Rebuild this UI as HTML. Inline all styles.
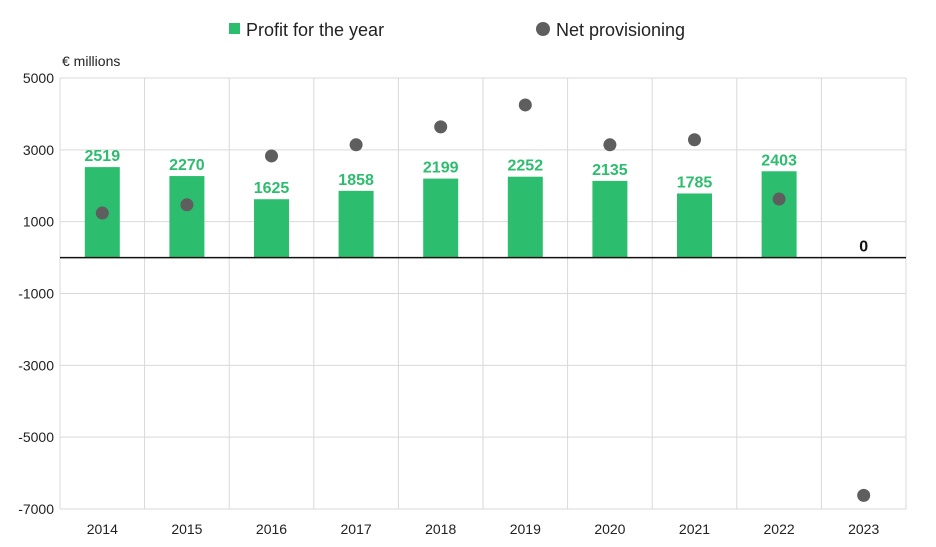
<!DOCTYPE html>
<html><head><meta charset="utf-8"><style>
body{margin:0;background:#fff;font-family:"Liberation Sans",Arial,sans-serif;}
svg text{font-family:"Liberation Sans",Arial,sans-serif;}
</style></head><body>
<svg id="chart" width="936" height="542">
<g>
<rect x="229" y="23" width="11" height="11" fill="#2dbd6e"/>
<text x="246" y="36" font-size="18" fill="#222">Profit for the year</text>
<circle cx="543" cy="29" r="7" fill="#5e5e5e"/>
<text x="556" y="36" font-size="18" fill="#222">Net provisioning</text>
</g>
<text x="62" y="66" font-size="14" fill="#222">€ millions</text>
<g id="grid"></g><g id="marks"></g>
</svg>
<script>
const categories=["2014","2015","2016","2017","2018","2019","2020","2021","2022","2023"];
const profit=[2519,2270,1625,1858,2199,2252,2135,1785,2403,0];
const provisioning=[1240,1470,2830,3140,3640,4250,3140,3280,1630,-6620];
const yTicks=[5000,3000,1000,-1000,-3000,-5000,-7000];
const NS="http://www.w3.org/2000/svg";
const L=60,R=906,T=78,B=509,yMax=5000,yMin=-7000;
const y=v=>T+(yMax-v)/(yMax-yMin)*(B-T);
const bw=(R-L)/categories.length;
const x=i=>L+bw*(i+0.5);
function mk(p,tag,a){const e=document.createElementNS(NS,tag);for(const k in a)e.setAttribute(k,a[k]);p.appendChild(e);return e;}
const grid=document.getElementById('grid'),marks=document.getElementById('marks');
yTicks.forEach(t=>{
 const l=mk(grid,'line',{x1:L,x2:R,y1:y(t),y2:y(t),stroke:'#d9d9d9','stroke-width':1});
 
 
 const tx=mk(grid,'text',{x:L-6,y:y(t)+5,'text-anchor':'end','font-size':14,fill:'#222'});
 tx.textContent=t;
 
 
});
for(let i=0;i<=categories.length;i++){
 const l=mk(grid,'line',{x1:L+bw*i,x2:L+bw*i,y1:T,y2:B,stroke:'#d9d9d9','stroke-width':1});
 
 
}
categories.forEach((c,i)=>{
 const v=profit[i];
 if(v!==0){
  const r=mk(marks,'rect',{x:x(i)-17.5,y:y(Math.max(v,0)),width:35,height:Math.abs(y(v)-y(0)),fill:'#2dbd6e'});
  
  
 }
 const lb=mk(marks,'text',{x:x(i),y:y(Math.max(v,0))-6,'text-anchor':'middle','font-size':16,'font-weight':'bold',fill:v===0?'#111':'#2dbd6e'});
 lb.textContent=v;
 
 
 const xl=mk(grid,'text',{x:x(i),y:534,'text-anchor':'middle','font-size':14,fill:'#222'});
 xl.textContent=c;
 
 
});
const z=mk(marks,'line',{x1:L,x2:R,y1:y(0),y2:y(0),stroke:'#111','stroke-width':1.5});


provisioning.forEach((v,i)=>{
 const c=mk(marks,'circle',{cx:x(i),cy:y(v),r:6.5,fill:'#5e5e5e'});
 
 
});
</script>
</body></html>
